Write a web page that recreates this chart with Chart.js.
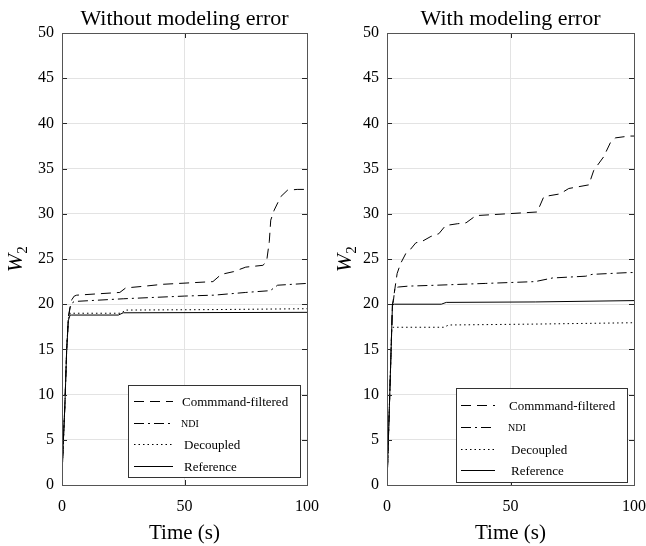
<!DOCTYPE html>
<html>
<head>
<meta charset="utf-8">
<script src="https://cdn.jsdelivr.net/npm/chart.js@4/dist/chart.umd.min.js"></script>
<style>
  html, body { margin: 0; padding: 0; background: #fff; }
  #wrap { position: relative; width: 646px; height: 546px; }
  canvas { position: absolute; top: 0; }
</style>
</head>
<body>
<div id="wrap">
  <canvas id="left" width="323" height="546" style="left:0"></canvas>
  <canvas id="right" width="323" height="546" style="left:323px"></canvas>
</div>
<script>
// legend labels (same order in both panels)
const seriesNames = ["Commmand-filtered", "NDI", "Decoupled", "Reference"];
const xTicks = [0, 50, 100];

// ---- left panel: without modeling error ----
const cmdLeftT = [0, 0.5, 1.2, 1.9, 2.6, 3.3, 4, 5, 6, 23.6, 26, 34, 41, 61.6, 65, 70, 75, 82, 83.5, 84.6, 85.2, 86.6, 89.3, 92, 96, 100];
const cmdLeftY = [1, 4.5, 9, 14.9, 18.6, 19.7, 20.5, 20.9, 21.0, 21.3, 21.8, 22.0, 22.2, 22.5, 23.3, 23.6, 24.1, 24.3, 24.7, 26.9, 29.3, 30.4, 31.9, 32.6, 32.7, 32.7];
const ndiLeftT = [0, 0.5, 1.2, 1.9, 2.6, 3.3, 4, 5, 25, 50, 62, 75, 85, 88, 100];
const ndiLeftY = [1, 4.5, 9, 14.9, 18.5, 19.6, 20.1, 20.3, 20.6, 20.9, 21.0, 21.3, 21.5, 22.1, 22.3];
const decLeftT = [0, 0.5, 1.2, 1.9, 2.6, 3.3, 4, 24, 26, 60, 100];
const decLeftY = [1, 4.5, 9, 14.9, 18.4, 19.0, 19.0, 19.0, 19.35, 19.4, 19.5];
const refLeftT = [0, 0.5, 1.2, 1.9, 2.6, 3.3, 4, 23, 25, 100];
const refLeftY = [1, 4.5, 9, 14.9, 18.2, 18.8, 18.8, 18.8, 19.05, 19.1];

// ---- right panel: with modeling error ----
const cmdRightT = [0, 0.5, 1, 1.5, 2.2, 2.6, 4.1, 5.5, 7.6, 9.6, 11.7, 13.9, 17.8, 21, 23.7, 28.5, 32, 36, 48.5, 60.8, 63.5, 70, 73.6, 81.7, 83.7, 87.7, 90.5, 92.5, 98, 100];
const cmdRightY = [0, 4.5, 9, 13.5, 19.9, 20.6, 23.4, 24.5, 25.6, 26.1, 26.8, 26.9, 27.5, 27.8, 28.7, 28.9, 29.0, 29.8, 30.0, 30.2, 31.9, 32.2, 32.8, 33.2, 34.8, 36.3, 37.9, 38.4, 38.6, 38.6];
const ndiRightT = [0, 0.5, 1, 1.5, 2.2, 2.6, 3.2, 4.6, 8.7, 20, 40, 60, 67, 80.5, 83, 98, 100];
const ndiRightY = [0, 4.5, 9, 13.5, 19.9, 20.4, 21.8, 21.9, 22.0, 22.1, 22.3, 22.5, 22.9, 23.1, 23.3, 23.5, 23.5];
const decRightT = [0, 0.5, 1, 1.5, 1.9, 2.5, 3, 23, 25, 60, 100];
const decRightY = [0, 4.5, 9, 13.5, 17.0, 17.45, 17.45, 17.45, 17.7, 17.8, 17.95];
const refRightT = [0, 0.5, 1, 1.5, 2.2, 3, 22, 24, 60, 100];
const refRightY = [0, 4.5, 9, 13.5, 19.9, 20.0, 20.0, 20.2, 20.25, 20.4];

const SERIF = "'Liberation Serif', 'Times New Roman', serif";
const dashes = [[10, 6], [10, 4, 2, 4], [1.5, 3], []];

function pts(t, y) {
  return t.map((v, i) => ({ x: v, y: y[i] }));
}

// titles, axis labels, inner ticks, box and legend
const overlay = {
  id: "overlay",
  afterDraw(chart, args, o) {
    const ctx = chart.ctx;
    const a = chart.chartArea;
    const xs = chart.scales.x, ys = chart.scales.y;
    ctx.save();

    // inner tick marks
    ctx.strokeStyle = "#262626";
    ctx.lineWidth = 1;
    ctx.setLineDash([]);
    ctx.beginPath();
    for (let v = 0; v <= 50; v += 5) {
      const p = Math.round(ys.getPixelForValue(v)) + 0.5;
      ctx.moveTo(a.left, p); ctx.lineTo(a.left + 5, p);
      ctx.moveTo(a.right, p); ctx.lineTo(a.right - 5, p);
    }
    xTicks.forEach(v => {
      const p = Math.round(xs.getPixelForValue(v)) + 0.5;
      ctx.moveTo(p, a.top); ctx.lineTo(p, a.top + 5);
      ctx.moveTo(p, a.bottom); ctx.lineTo(p, a.bottom - 5);
    });
    ctx.stroke();

    // axes box
    ctx.strokeStyle = "#555";
    ctx.strokeRect(Math.round(a.left) + 0.5, Math.round(a.top) + 0.5,
                   Math.round(a.right - a.left), Math.round(a.bottom - a.top));

    // title
    ctx.fillStyle = "#000";
    ctx.font = "22px " + SERIF;
    ctx.textAlign = "center";
    ctx.textBaseline = "alphabetic";
    ctx.fillText(o.title, (a.left + a.right) / 2, 25);

    // x label
    ctx.font = "21px " + SERIF;
    ctx.fillText("Time (s)", (a.left + a.right) / 2, 539);

    // y label W_2
    ctx.save();
    ctx.translate(o.ylabelX, (a.top + a.bottom) / 2);
    ctx.rotate(-Math.PI / 2);
    ctx.font = "italic 22px " + SERIF;
    ctx.textAlign = "left";
    const w = ctx.measureText("W").width;
    ctx.fillText("W", -(w + 8) / 2, 0);
    ctx.font = "15px " + SERIF;
    ctx.fillText("2", -(w + 8) / 2 + w, 5);
    ctx.restore();

    // legend
    const L = o.legend;
    ctx.fillStyle = "#fff";
    ctx.fillRect(L.x, L.y, L.w, L.h);
    ctx.strokeStyle = "#333";
    ctx.strokeRect(L.x + 0.5, L.y + 0.5, L.w, L.h);
    chart.data.datasets.forEach((ds, i) => {
      const ry = L.rows[i] + 0.5;
      ctx.strokeStyle = "#000";
      ctx.lineWidth = 1;
      ctx.setLineDash(ds.borderDash);
      ctx.beginPath();
      ctx.moveTo(L.x1, ry); ctx.lineTo(L.x2, ry);
      ctx.stroke();
      ctx.setLineDash([]);
      ctx.fillStyle = "#000";
      ctx.textAlign = "left";
      ctx.textBaseline = "middle";
      ctx.font = (i === 1 ? "10px " : "13px ") + SERIF;
      ctx.fillText(ds.label, L.tx + L.dx[i], ry + 1);
    });
    ctx.restore();
  }
};

function makeChart(id, title, series, yWidth, padRight, ylabelX, legend) {
  return new Chart(document.getElementById(id), {
    type: "line",
    data: {
      datasets: series.map((s, i) => ({
        label: seriesNames[i],
        data: pts(s[0], s[1]),
        borderColor: "#000",
        borderWidth: 1,
        borderDash: dashes[i],
        pointRadius: 0,
        tension: 0,
        fill: false
      }))
    },
    options: {
      responsive: false,
      animation: false,
      layout: { padding: { top: 33, right: padRight, left: 0, bottom: 0 } },
      scales: {
        x: {
          type: "linear", min: 0, max: 100,
          afterBuildTicks: s => { s.ticks = xTicks.map(v => ({ value: v })); },
          ticks: { font: { family: SERIF, size: 16 }, color: "#000", padding: 12, maxRotation: 0 },
          grid: { color: "#e3e3e3", drawTicks: false },
          border: { display: false },
          afterFit: s => { s.height = 61; s.paddingLeft = 0; s.paddingRight = 0; }
        },
        y: {
          type: "linear", min: 0, max: 50,
          ticks: { stepSize: 5, font: { family: SERIF, size: 16 }, color: "#000", padding: 8 },
          grid: { color: "#e3e3e3", drawTicks: false },
          border: { display: false },
          afterFit: s => { s.width = yWidth; s.paddingTop = 0; s.paddingBottom = 0; }
        }
      },
      plugins: {
        legend: { display: false },
        tooltip: { enabled: false },
        overlay: { title: title, ylabelX: ylabelX, legend: legend }
      }
    },
    plugins: [overlay]
  });
}

makeChart("left", "Without modeling error", [
  [cmdLeftT, cmdLeftY], [ndiLeftT, ndiLeftY], [decLeftT, decLeftY], [refLeftT, refLeftY]
], 62, 16, 22, {
  x: 128, y: 385, w: 172, h: 92,
  rows: [401, 423, 444, 466], x1: 134, x2: 173, tx: 182, dx: [0, -1, 2, 2]
});

makeChart("right", "With modeling error", [
  [cmdRightT, cmdRightY], [ndiRightT, ndiRightY], [decRightT, decRightY], [refRightT, refRightY]
], 64, 12, 28, {
  x: 133, y: 388, w: 171, h: 94,
  rows: [405, 427, 449, 470], x1: 138, x2: 172, tx: 186, dx: [0, -1, 2, 2]
});
</script>
</body>
</html>
